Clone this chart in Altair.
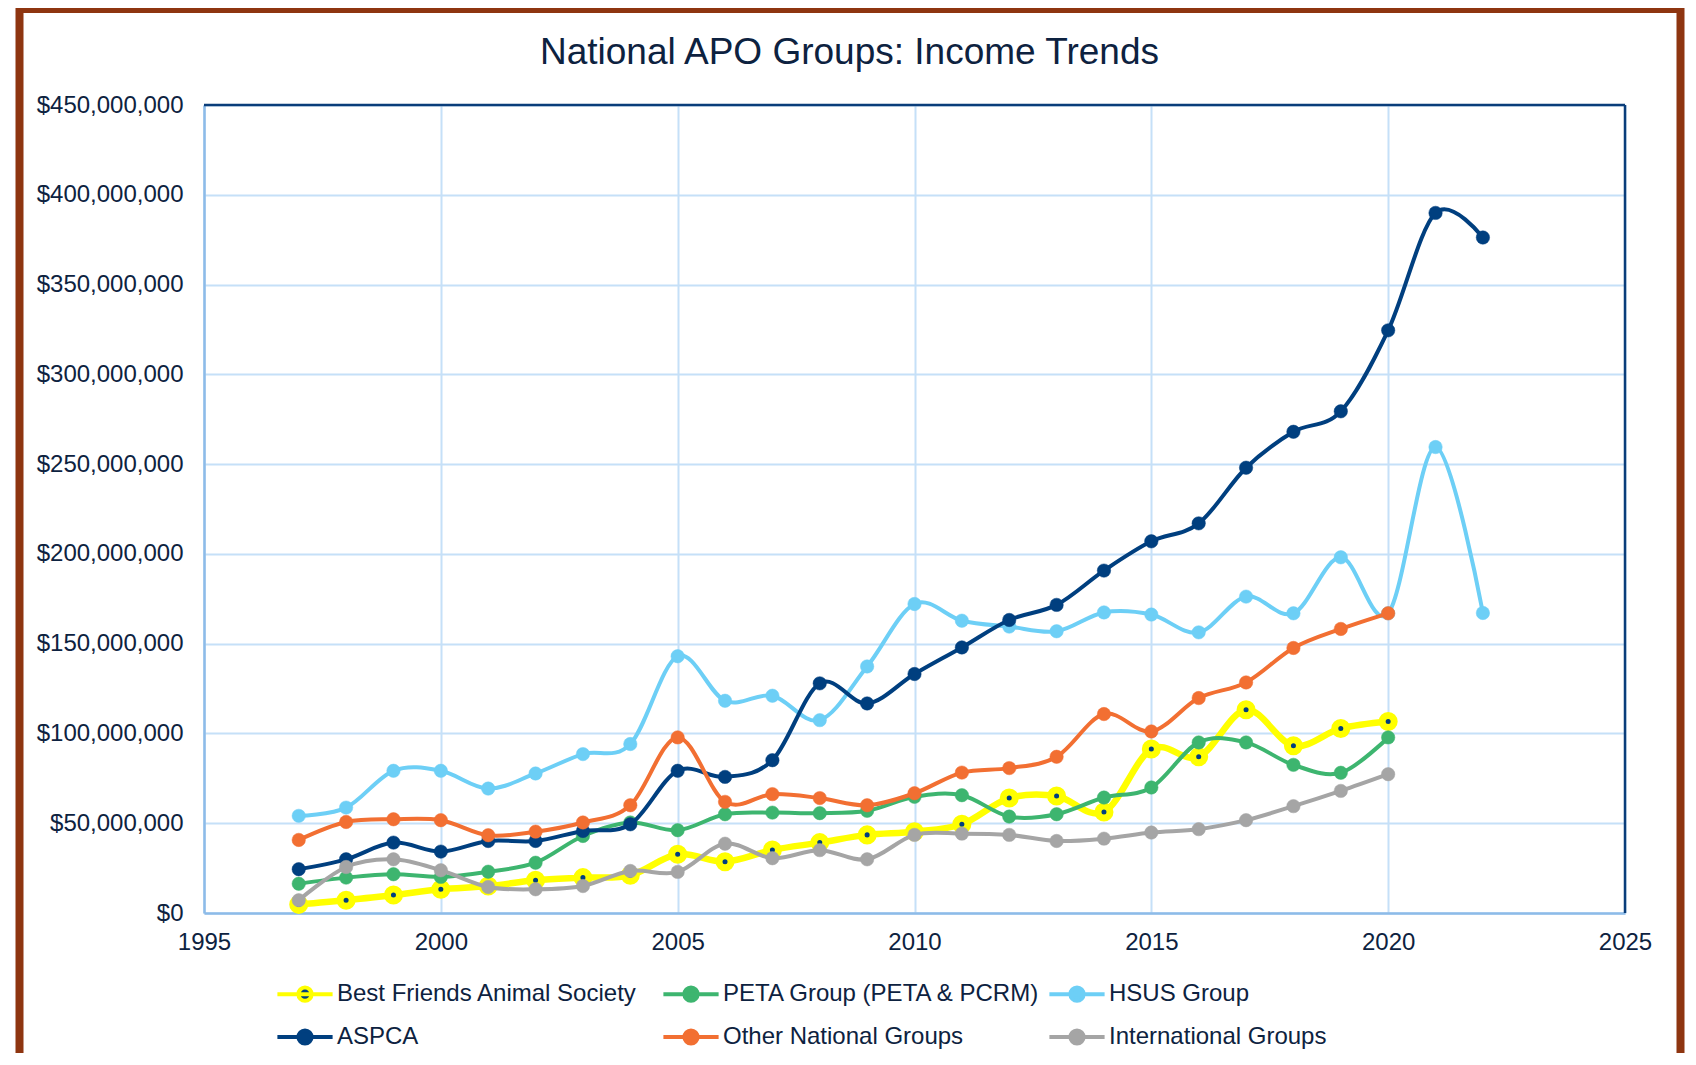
import altair as alt
import pandas as pd

FONT = "Liberation Sans"
TXT = "#0D2240"

series = [
    "Best Friends Animal Society",
    "PETA Group (PETA & PCRM)",
    "HSUS Group",
    "ASPCA",
    "Other National Groups",
    "International Groups",
]

years_short = list(range(1997, 2021))
years_long = list(range(1997, 2023))

# values in millions of dollars
best_friends = [4.8, 7.1, 10.0, 13.2, 15.0, 18.2, 19.7, 21.0, 32.7, 28.6, 35.1, 39.2,
                43.5, 45.3, 49.4, 64.0, 65.2, 56.3, 91.3, 87.0, 113.2, 93.1, 102.8, 106.7]
peta = [16.3, 19.7, 21.6, 20.1, 23.0, 28.0, 42.9, 50.4, 46.1, 55.0, 55.9, 55.6,
        56.9, 64.7, 65.6, 53.7, 55.0, 64.3, 69.9, 95.0, 95.0, 82.5, 78.1, 97.8]
hsus = [54.1, 58.7, 79.2, 79.2, 69.3, 77.7, 88.5, 94.1, 143.0, 118.2, 121.0, 107.4,
        137.3, 172.1, 162.8, 159.5, 156.9, 167.4, 166.2, 156.3, 176.2, 166.9, 198.1,
        166.9, 259.5, 167.1]
aspca = [24.4, 29.9, 39.2, 34.2, 40.1, 40.1, 45.7, 49.4, 79.2, 75.8, 85.1, 127.9,
         116.7, 133.1, 147.9, 163.2, 171.6, 190.7, 207.0, 217.0, 248.0, 268.0, 279.4,
         324.5, 389.9, 376.2]
other_national = [40.7, 50.7, 52.2, 51.7, 43.3, 45.3, 50.4, 60.0, 97.8, 61.9, 66.2, 64.0,
                  60.0, 66.7, 78.2, 80.7, 87.0, 110.8, 101.1, 119.7, 128.4, 147.6, 158.2, 166.9]
international = [7.1, 25.6, 29.9, 23.8, 14.5, 13.2, 15.0, 23.4, 22.9, 38.6, 30.5, 35.0,
                 29.9, 43.5, 44.2, 43.5, 40.1, 41.4, 44.8, 46.7, 51.7, 59.5, 68.0, 77.3]

values_by_series = [best_friends, peta, hsus, aspca, other_national, international]
years_by_series = [years_short, years_short, years_long, years_long, years_short, years_short]

line_colors = ["#FFFF00", "#3DB56F", "#6DCFF6", "#003F7F", "#F26F32", "#A5A5A5"]
fill_colors = ["#003F7F", "#3DB56F", "#6DCFF6", "#003F7F", "#F26F32", "#A5A5A5"]

rows = []
for name, yrs, vals in zip(series, years_by_series, values_by_series):
    for yr, v in zip(yrs, vals):
        rows.append({"Year": yr, "Income": v * 1e6, "Series": name})
df = pd.DataFrame(rows)

y_ticks = [i * 50_000_000 for i in range(10)]
x_ticks = [1995, 2000, 2005, 2010, 2015, 2020, 2025]

W, H = 1421, 808

fill_scale = alt.Scale(domain=series, range=fill_colors)
stroke_scale = alt.Scale(domain=series, range=line_colors)

LEG_PATH = "M-2.3,0L2.3,0M-0.55,0A0.55,0.55,0,1,1,0.55,0A0.55,0.55,0,1,1,-0.55,0Z"
legend = alt.Legend(
    title=None, orient="none", legendX=87, legendY=875, columns=3,
    direction="horizontal", gridAlign="all",
    symbolType=LEG_PATH, symbolSize=576, symbolStrokeWidth=4, symbolOffset=0,
    labelFont=FONT, labelFontSize=24, labelColor=TXT, labelOffset=18, labelLimit=600,
    columnPadding=0, rowPadding=13, padding=0,
)

x_enc = alt.X("Year:Q", scale=alt.Scale(domain=[1995, 2025], nice=False, zero=False),
              axis=alt.Axis(values=x_ticks, format="d", labelPadding=17, labelFlush=False,
                            title=None))
y_enc = alt.Y("Income:Q", scale=alt.Scale(domain=[0, 450_000_000], nice=False),
              axis=alt.Axis(values=y_ticks, format="$,.0f", labelPadding=21, title=None))

base = alt.Chart(df)

# decorations: outer frame and dark top/right plot border
frame = alt.Chart(alt.Data(values=[{"k": 1}])).mark_rect(
    fillOpacity=0, stroke="#8E3510", strokeWidth=8
).encode(x=alt.value(-184.5), x2=alt.value(1476.5), y=alt.value(-96), y2=alt.value(1200))
top_border = alt.Chart(alt.Data(values=[{"k": 1}])).mark_rule(
    color="#0A3D7A", strokeWidth=2.5
).encode(x=alt.value(0), x2=alt.value(W), y=alt.value(0))
right_border = alt.Chart(alt.Data(values=[{"k": 1}])).mark_rule(
    color="#0A3D7A", strokeWidth=2.5
).encode(x=alt.value(W), y=alt.value(0), y2=alt.value(H))

layers = [frame, top_border, right_border]
for i, name in enumerate(series):
    is_bf = i == 0
    sub = base.transform_filter(alt.datum.Series == name)
    line = sub.mark_line(
        interpolate="cardinal", color=line_colors[i], strokeWidth=6.5 if is_bf else 4
    ).encode(x=x_enc, y=y_enc, order="Year:Q")
    pts = sub.mark_circle(size=145 if is_bf else 180, opacity=1).encode(
        x=x_enc, y=y_enc,
        fill=alt.Fill("Series:N", scale=fill_scale, legend=legend),
        stroke=alt.Stroke("Series:N", scale=stroke_scale, legend=legend),
        strokeWidth=alt.value(7 if is_bf else 0.5),
    )
    layers += [line, pts]

chart = alt.layer(*layers).properties(
    width=W, height=H,
    title=alt.TitleParams(
        text="National APO Groups: Income Trends", font=FONT, fontSize=37,
        fontWeight="normal", color=TXT, anchor="middle", frame="group",
        dx=-65, offset=0, dy=67,
    ),
    padding={"left": 196, "top": 97, "right": 63, "bottom": 140},
    autosize=alt.AutoSizeParams(type="none"),
).configure_view(stroke=None).configure_axis(
    labelFont=FONT, labelFontSize=24, labelColor=TXT,
    gridColor="#C5E0F8", gridWidth=2,
    domainColor="#8DBBE8", domainWidth=2.5, ticks=False,
)

chart.save("out.html", embed_options={"renderer": "svg", "actions": False})
